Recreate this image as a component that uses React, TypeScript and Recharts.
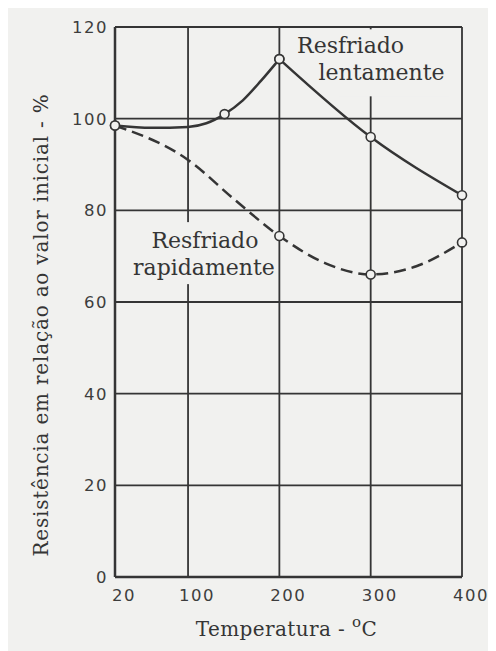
import { LineChart, Line, XAxis, YAxis, CartesianGrid, ReferenceDot, Label } from "recharts";

// Resfriado lentamente (curva contínua)
const slowTemps = [20, 60, 100, 120, 140, 160, 180, 200, 300, 400];
const slowValues = [98.5, 98, 98.2, 99, 101, 104, 108.3, 113, 96, 83.3];
const slowMeasured = [true, false, false, false, true, false, false, true, true, true];

// Resfriado rapidamente (curva tracejada)
const fastTemps = [20, 100, 150, 200, 250, 300, 350, 400];
const fastValues = [98.5, 91, 82.5, 74.4, 68.5, 66, 67.8, 73];
const fastMeasured = [true, false, false, true, false, true, false, true];

const xTicks = [20, 100, 200, 300, 400];
const yTicks = [0, 20, 40, 60, 80, 100, 120];

const slowData = slowTemps.map((t, i) => ({ t, v: slowValues[i], m: slowMeasured[i] }));
const fastData = fastTemps.map((t, i) => ({ t, v: fastValues[i], m: fastMeasured[i] }));
// the slow curve has a sharp peak at 200 °C: draw rise and fall as two pieces
const peakIndex = slowTemps.indexOf(200);
const slowRise = slowData.slice(0, peakIndex + 1);
const slowFall = slowData.slice(peakIndex);

const BG = "#f1f1ef";
const INK = "#353535";
const SERIF = "'DejaVu Serif', 'Liberation Serif', serif";
const SANS = "'DejaVu Sans', sans-serif";

const renderDot = (prefix: string) => (props: any) => {
  const { cx, cy, payload, index } = props;
  if (!payload.m) return <g key={`${prefix}-${index}`} />;
  return <circle key={`${prefix}-${index}`} cx={cx} cy={cy} r={4.5} fill={BG} stroke={INK} strokeWidth={1.6} />;
};

const SlowLabel = (props: any) => {
  const { cx, cy } = props;
  return (
    <g>
      <rect x={cx - 11} y={cy - 16} width={110} height={67} fill={BG} />
      <text x={cx} y={cy} textAnchor="middle" dominantBaseline="central" fontFamily={SERIF} fontSize={22} fill={INK}>
        Resfriado
      </text>
      <text x={cx + 31} y={cy + 27} textAnchor="middle" dominantBaseline="central" fontFamily={SERIF} fontSize={22} fill={INK}>
        lentamente
      </text>
    </g>
  );
};

const FastLabel = (props: any) => {
  const { cx, cy } = props;
  return (
    <g>
      <rect x={cx - 65} y={cy - 18} width={110} height={62} fill={BG} />
      <text x={cx} y={cy} textAnchor="middle" dominantBaseline="central" fontFamily={SERIF} fontSize={22} fill={INK}>
        Resfriado
      </text>
      <text x={cx - 1} y={cy + 27} textAnchor="middle" dominantBaseline="central" fontFamily={SERIF} fontSize={22} fill={INK}>
        rapidamente
      </text>
    </g>
  );
};

const XTitle = (props: any) => {
  const { x, y, width } = props.viewBox;
  return (
    <text x={x + width / 2 - 2} y={y + 59} textAnchor="middle" fontFamily={SERIF} fontSize={20} letterSpacing={0.4} fill={INK}>
      Temperatura -{" "}
      <tspan dy={-9} fontSize={15}>o</tspan>
      <tspan dy={9}>C</tspan>
    </text>
  );
};

const YTitle = (props: any) => {
  const { x, y, height } = props.viewBox;
  const cx = x - 14;
  const cy = y + height / 2 + 23;
  return (
    <text
      x={cx}
      y={cy}
      transform={`rotate(-90, ${cx}, ${cy})`}
      textAnchor="middle"
      dominantBaseline="central"
      fontFamily={SERIF}
      fontSize={20}
      letterSpacing={0.8}
      fill={INK}
    >
      Resistência em relação ao valor inicial - %
    </text>
  );
};

export default function App() {
  return (
    <div style={{ background: BG, width: 488, height: 643 }}>
      <LineChart width={488} height={643} margin={{ top: 19, right: 34, left: 47, bottom: 0 }}>
        <CartesianGrid stroke={INK} strokeWidth={1.8} />
        <XAxis
          type="number"
          dataKey="t"
          domain={[20, 400]}
          ticks={xTicks}
          height={74}
          tickSize={0}
          tickMargin={12}
          tickLine={false}
          axisLine={{ stroke: INK, strokeWidth: 2.5 }}
          tick={{ fill: "#3d3d3d", fontSize: 16.5, fontFamily: SANS, dx: 9, letterSpacing: 1.5 }}
        >
          <Label content={XTitle} />
        </XAxis>
        <YAxis
          type="number"
          domain={[0, 120]}
          ticks={yTicks}
          width={60}
          tickSize={0}
          tickMargin={7}
          tickLine={false}
          axisLine={{ stroke: INK, strokeWidth: 2.5 }}
          tick={{ fill: "#3d3d3d", fontSize: 16.5, fontFamily: SANS, letterSpacing: 1.5 }}
        >
          <Label content={YTitle} />
        </YAxis>
        <ReferenceDot x={278} y={116} r={1} ifOverflow="visible" shape={SlowLabel} />
        <ReferenceDot x={118.5} y={73.5} r={1} ifOverflow="visible" shape={FastLabel} />
        <Line
          data={fastData}
          dataKey="v"
          type="monotone"
          stroke={INK}
          strokeWidth={2.5}
          strokeDasharray="12 6"
          dot={renderDot("f")}
          activeDot={false}
          isAnimationActive={false}
        />
        <Line
          data={slowRise}
          dataKey="v"
          type="monotone"
          stroke={INK}
          strokeWidth={2.5}
          dot={renderDot("sr")}
          activeDot={false}
          isAnimationActive={false}
        />
        <Line
          data={slowFall}
          dataKey="v"
          type="monotone"
          stroke={INK}
          strokeWidth={2.5}
          dot={renderDot("sf")}
          activeDot={false}
          isAnimationActive={false}
        />
      </LineChart>
    </div>
  );
}
